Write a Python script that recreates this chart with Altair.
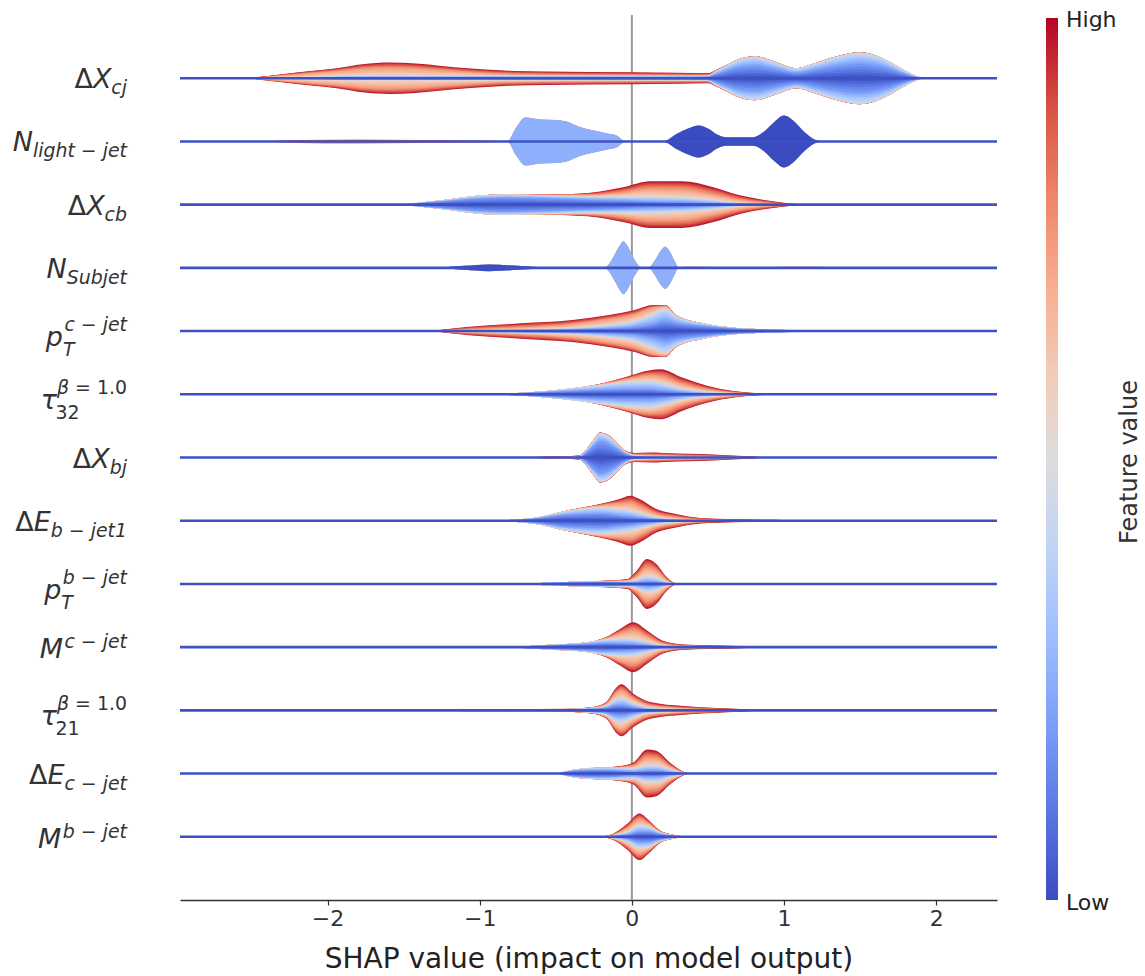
import altair as alt
import numpy as np
import pandas as pd

# ---------------------------------------------------------------------------
# Feature names, written as mathtext-like runs: (text, role, italic)
# role: "b" = base, "sub" = subscript, "sup" = superscript
# ---------------------------------------------------------------------------
feature_labels = [
    [("Δ", "b", 0), ("X", "b", 1), ("cj", "sub", 1)],
    [("N", "b", 1), ("light − jet", "sub", 1)],
    [("Δ", "b", 0), ("X", "b", 1), ("cb", "sub", 1)],
    [("N", "b", 1), ("Subjet", "sub", 1)],
    [("p", "b", 1), ("T", "sub", 1), ("c − jet", "sup", 1)],
    [("τ", "b", 1), ("32", "sub", 0), ("β", "sup", 1), (" ", "sup", 0), ("= 1.0", "sup", 0)],
    [("Δ", "b", 0), ("X", "b", 1), ("bj", "sub", 1)],
    [("Δ", "b", 0), ("E", "b", 1), ("b − jet1", "sub", 1)],
    [("p", "b", 1), ("T", "sub", 1), ("b − jet", "sup", 1)],
    [("M", "b", 1), ("c − jet", "sup", 1)],
    [("τ", "b", 1), ("21", "sub", 0), ("β", "sup", 1), (" ", "sup", 0), ("= 1.0", "sup", 0)],
    [("Δ", "b", 0), ("E", "b", 1), ("c − jet", "sub", 1)],
    [("M", "b", 1), ("b − jet", "sup", 1)],
]

colorbar_labels = ["Low", "High"]
colorbar_title = "Feature value"

# ---------------------------------------------------------------------------
# SHAP value grid and layered densities per feature.
# Each *_w holds one density list per feature-value bin, from the violin's
# centre outward (low feature value first).
# ---------------------------------------------------------------------------
dxcj_x = [-2.52, -2.3, -2.11, -1.94, -1.77, -1.59, -1.42, -1.25, -1.08, -0.84, -0.56, 0.0, 0.3,
          0.5, 0.55, 0.62, 0.7, 0.81, 0.95, 1.08, 1.2, 1.35, 1.5, 1.65, 1.78, 1.87, 1.93]
dxcj_w = [
    [0, 0.5, 0.8, 1, 1.2, 1.2, 1.2, 1.2, 1.2, 1.2, 1.2, 1.2, 1.2, 1.5, 4, 7.5, 11, 12.5, 9, 5.5, 8.5, 12.5, 14.5, 11.5, 5, 1.2, 0],
    [0, 0.3, 0.5, 0.8, 0.8, 0.8, 0.8, 0.8, 0.8, 0.8, 0.8, 0.8, 0.8, 0.8, 2.8, 4.8, 7.5, 9, 6.5, 4.1, 6.1, 9, 11, 8.2, 3.8, 0.8, 0],
    [0, 2, 3.8, 5.2, 7.5, 8.5, 7.7, 6, 4.2, 2.2, 1.5, 1, 0.8, 0.6, 0.4, 0.3, 0.2, 0.2, 0.2, 0.1, 0.1, 0.2, 0.2, 0.1, 0.1, 0, 0],
    [0, 1.2, 2.2, 3, 4.5, 5.2, 5, 4.3, 3.8, 3.5, 3.2, 3, 2.7, 2.1, 0.8, 0.4, 0.3, 0.3, 0.3, 0.3, 0.3, 0.3, 0.3, 0.2, 0.1, 0, 0],
]

nlight_x = [-2.4, -2.2, -1.8, -1.4, -1.0, -0.85, -0.82, -0.76, -0.70, -0.60, -0.50, -0.43, -0.35,
            -0.28, -0.22, -0.16, -0.10, -0.04, 0.2, 0.3, 0.37, 0.44, 0.5, 0.56, 0.62, 0.8, 0.87,
            0.94, 1.0, 1.06, 1.13, 1.2, 1.25]
nlight_w = [
    [0] * 18 + [0, 8, 13, 16, 13, 7, 4.3, 4.3, 10, 20, 26, 21, 10, 2, 0],
    [0] * 6 + [0, 14, 24, 22, 21.5, 20, 15, 12, 10, 8, 6, 0] + [0] * 15,
    [0, 1.5, 2, 1.5, 1, 0.5, 0] + [0] * 26,
]

dxcb_x = [-1.52, -1.25, -0.98, -0.84, -0.56, -0.29, -0.05, 0.12, 0.33, 0.53, 0.71, 0.88, 1.12]
dxcb_w = [
    [0, 3.3, 6.3, 7, 6.2, 5, 4, 3, 2.5, 1.5, 0.5, 0.2, 0],
    [0, 1, 3, 3, 3, 3, 4, 5, 4.5, 3, 1, 0.3, 0],
    [0, 0, 0, 0.2, 0.5, 1.8, 4.5, 8, 8.5, 6, 3.5, 1.5, 0],
    [0, 0, 0, 0.1, 0.3, 1.9, 5.2, 7.3, 7.8, 7.2, 4.3, 2.3, 0],
]

nsub_x = [-1.4, -1.32, -1.1, -0.94, -0.75, -0.56, -0.45, -0.18, -0.14, -0.11, -0.08, -0.056, -0.03,
          0.0, 0.03, 0.06, 0.08, 0.11, 0.15, 0.19, 0.22, 0.25, 0.28, 0.31, 0.35, 0.45, 0.58, 0.7,
          0.81, 1.0, 1.2, 1.33, 1.45]
nsub_w = [
    [0, 0, 2, 3.3, 2, 0.3, 0] + [0] * 26,
    [0] * 8 + [6, 14, 22, 26.5, 22, 13, 5, 0, 0, 0, 7, 17, 21, 16, 7, 0] + [0] * 9,
    [0] * 24 + [1, 1.2, 0.5, 0, 0.3, 1.2, 1.2, 0.3, 0],
]

ptc_x = [-1.32, -1.07, -0.73, -0.39, -0.15, 0.02, 0.14, 0.22, 0.29, 0.47, 0.67, 0.91, 1.32, 1.5]
ptc_w = [
    [0, 0.5, 1, 1.5, 2.5, 4, 7, 10, 8, 5, 2.5, 1.3, 0.5, 0],
    [0, 0.3, 0.5, 1.5, 3.5, 6, 10, 12, 7, 2.5, 0.8, 0.2, 0, 0],
    [0, 1, 2.2, 4, 6, 7, 6.5, 3, 0.7, 0.1, 0, 0, 0, 0],
    [0, 2.5, 4, 4, 4, 4, 2.5, 1, 0.3, 0.1, 0, 0, 0, 0],
]

tau32_x = [-0.91, -0.56, -0.22, -0.05, 0.12, 0.19, 0.33, 0.50, 0.67, 0.81, 1.0]
tau32_w = [
    [0, 2.3, 4.5, 5, 5, 4, 2, 0.8, 0.3, 0.1, 0],
    [0, 1, 4.5, 7, 8, 7, 3.5, 1.5, 0.5, 0.1, 0],
    [0, 0, 0.7, 3, 6, 7, 5, 2.5, 1, 0.4, 0],
    [0, 0, 0.3, 1.7, 5, 7, 6.2, 3.5, 1.5, 0.6, 0],
]

dxbj_x = [-0.70, -0.55, -0.40, -0.34, -0.30, -0.25, -0.21, -0.16, -0.10, -0.04, 0.02, 0.12, 0.30,
          0.45, 0.62, 0.77, 0.9]
dxbj_w = [
    [0, 0, 0.3, 1, 5, 12, 16, 14, 9, 3.5, 1, 0.5, 0.3, 0.2, 0.1, 0, 0],
    [0, 0, 0, 0.3, 2, 5, 8, 8, 5, 2, 1, 0.5, 0.3, 0.2, 0.1, 0, 0],
    [0, 0.5, 0.7, 0.5, 0.5, 0.6, 0.6, 0.6, 0.6, 0.6, 1, 1.5, 1.2, 1, 0.6, 0.3, 0],
    [0, 0.5, 0.5, 0.5, 0.5, 0.4, 0.4, 0.4, 0.4, 0.6, 1.5, 2.5, 2.2, 2, 1.4, 0.9, 0],
]

debj_x = [-0.95, -0.65, -0.43, -0.21, -0.08, -0.01, 0.05, 0.16, 0.29, 0.45, 0.67, 1.0, 1.32, 1.45]
debj_w = [
    [0, 2, 6, 7, 5, 4, 3, 1.5, 0.5, 0.2, 0, 0, 0, 0],
    [0, 0.7, 3.5, 6, 6.5, 6, 4.5, 2, 1, 0.3, 0.1, 0, 0, 0],
    [0, 0, 0.5, 2.5, 6, 8, 7, 3.5, 2, 0.8, 0.4, 0.2, 0.1, 0],
    [0, 0, 0, 1.2, 4.2, 7, 7.2, 4.7, 3.2, 1.4, 1.0, 0.6, 0.2, 0],
]

ptb_x = [-0.89, -0.6, -0.43, -0.17, -0.03, 0.03, 0.10, 0.16, 0.23, 0.28, 0.32]
ptb_w = [
    [0, 0.8, 1.5, 2, 1.5, 1.5, 2.5, 2, 0.5, 0.1, 0],
    [0, 0.2, 0.5, 0.8, 1, 2.5, 5, 4, 1.2, 0.2, 0],
    [0, 0, 0, 0.2, 1, 4, 9, 7.5, 2.5, 0.3, 0],
    [0, 0, 0, 0.3, 1.5, 5, 8.5, 6.5, 2.5, 0.4, 0],
]

mc_x = [-0.80, -0.54, -0.32, -0.17, -0.08, 0.01, 0.10, 0.20, 0.34, 0.66, 0.88, 1.0]
mc_w = [
    [0, 1.8, 3, 4, 3.5, 3, 2, 0.7, 0.2, 0, 0, 0],
    [0, 0.5, 1.3, 3.5, 5, 5, 3, 1, 0.3, 0.1, 0, 0],
    [0, 0, 0, 1.5, 5.5, 9, 6, 2.2, 0.8, 0.4, 0.1, 0],
    [0, 0, 0, 1, 4, 8, 5.7, 2.8, 1.4, 0.8, 0.2, 0],
]

tau21_x = [-1.6, -1.0, -0.43, -0.26, -0.17, -0.10, -0.07, 0.01, 0.12, 0.34, 0.56, 0.77, 0.9]
tau21_w = [
    [0, 0.6, 1, 1.5, 2.5, 5, 5, 3, 1, 0.3, 0.1, 0, 0],
    [0, 0.2, 0.3, 0.8, 2, 6, 7, 4, 1.5, 0.5, 0.2, 0, 0],
    [0, 0, 0.1, 0.5, 2, 7, 8, 5, 2.5, 1.3, 0.7, 0.3, 0],
    [0, 0, 0.1, 0.5, 1.5, 5, 6, 4.7, 3.3, 2.2, 1.3, 0.7, 0],
]

dec_x = [-0.49, -0.36, -0.21, -0.10, 0.01, 0.10, 0.16, 0.25, 0.34, 0.38]
dec_w = [
    [0, 3, 3.5, 3, 2, 3, 3, 1.5, 0.3, 0],
    [0, 1.3, 2.2, 2.5, 3, 5, 5, 2.5, 0.4, 0],
    [0, 0, 0, 0.8, 3, 8, 7.5, 3.5, 0.5, 0],
    [0, 0, 0.3, 0.7, 3, 8, 7.2, 3.5, 0.5, 0],
]

mb_x = [-0.21, -0.12, -0.03, 0.05, 0.11, 0.18, 0.27, 0.34, 0.42]
mb_w = [
    [0, 0.8, 2, 5, 5, 2.8, 1, 0.3, 0],
    [0, 0.8, 3, 6, 5, 2, 0.6, 0.2, 0],
    [0, 0.8, 4, 6.5, 3.5, 1, 0.2, 0, 0],
    [0, 0.9, 4, 5.8, 3.2, 0.9, 0.2, 0, 0],
]

# feature-value ranges of the bins (0 = low, 1 = high)
GRAD_BINS = [(0.0, 0.2), (0.2, 0.45), (0.55, 0.75), (0.75, 1.0)]
FLAT_BINS = [(0.0, 0.0), (0.25, 0.25), (0.85, 0.85)]

features = [
    (dxcj_x, dxcj_w, GRAD_BINS),
    (nlight_x, nlight_w, FLAT_BINS),
    (dxcb_x, dxcb_w, GRAD_BINS),
    (nsub_x, nsub_w, FLAT_BINS),
    (ptc_x, ptc_w, GRAD_BINS),
    (tau32_x, tau32_w, GRAD_BINS),
    (dxbj_x, dxbj_w, GRAD_BINS),
    (debj_x, debj_w, GRAD_BINS),
    (ptb_x, ptb_w, GRAD_BINS),
    (mc_x, mc_w, GRAD_BINS),
    (tau21_x, tau21_w, GRAD_BINS),
    (dec_x, dec_w, GRAD_BINS),
    (mb_x, mb_w, GRAD_BINS),
]

COOLWARM = ["#3b4cc0", "#5977e3", "#7b9ff9", "#9ebeff", "#c0d4f5", "#dddcdc",
            "#f2cbb7", "#f7ac8e", "#ee8468", "#d65244", "#b40426"]

# ---------------------------------------------------------------------------
# Geometry
# ---------------------------------------------------------------------------
W, H = 817, 885
N_ROWS = len(features)
Y_MIN, Y_MAX = -1.0, N_ROWS + 0.0
ROW_PX = H / (Y_MAX - Y_MIN)
DENSITY_PER_ROW = 63.2      # density that fills one full row spacing
SUB_BANDS = 5               # colour steps inside a graded bin

# stacked, mirrored bands (inner band index 0)
records = []
max_band = 0
for r, (xs, ws, bins) in enumerate(features):
    xs = np.asarray(xs, float)
    bands = []
    for (c_lo, c_hi), w in zip(bins, ws):
        w = np.asarray(w, float)
        n = 1 if c_lo == c_hi else SUB_BANDS
        for s in range(n):
            bands.append((c_lo + (c_hi - c_lo) * (s + 0.5) / n, w / n))
    cum = np.zeros(len(xs))
    for b, (c, w) in enumerate(bands):
        cum = cum + w
        half = cum / DENSITY_PER_ROW
        for xv, h in zip(xs, half):
            records.append({"row": r, "band": b, "x": float(xv),
                            "lo": r - float(h), "hi": r + float(h), "c": c})
    max_band = max(max_band, len(bands))
violins = pd.DataFrame(records)

# ---------------------------------------------------------------------------
# Feature label layout (DejaVu Sans advance widths, units per em = 2048)
# ---------------------------------------------------------------------------
ADV = {"Δ": 1401, "X": 1401, "N": 1532, "E": 1294, "M": 1767, "S": 1300, "T": 1251,
       "p": 1300, "b": 1300, "c": 1126, "e": 1260, "g": 1300, "h": 1298, "i": 569,
       "j": 569, "l": 569, "t": 803, "u": 1298, "τ": 1118, "β": 1300, " ": 651,
       "−": 1716, "=": 1716, ".": 651}
for d in "0123456789":
    ADV[d] = 1303

BASE_FS = 27.0
SCRIPT_FS = BASE_FS * 0.7
LABEL_RIGHT = -53.0
# baseline offsets in px (base, sub, sup) by script layout
OFFSETS = {"sub": (10, 16, None), "sup": (11, None, 1), "both": (15, 25, 0)}


def width(text, size):
    return sum(ADV.get(ch, 1250) for ch in text) / 2048.0 * size


label_rows = []
for r, runs in enumerate(feature_labels):
    roles = {role for _, role, _ in runs}
    kind = "both" if {"sub", "sup"} <= roles else ("sub" if "sub" in roles else "sup")
    off_b, off_sub, off_sup = OFFSETS[kind]
    placed = []
    cur = 0.0
    for text, role, ital in runs:
        if role == "b":
            placed.append((text, cur, BASE_FS, off_b, ital))
            cur += width(text, BASE_FS)
    x_sub = cur
    x_sup = cur + 1.5
    for text, role, ital in runs:
        if role == "sub":
            placed.append((text, x_sub, SCRIPT_FS, off_sub, ital))
            x_sub += width(text, SCRIPT_FS)
        elif role == "sup":
            placed.append((text, x_sup, SCRIPT_FS, off_sup, ital))
            x_sup += width(text, SCRIPT_FS)
    end = max(cur, x_sub, x_sup if "sup" in roles else cur)
    shift = LABEL_RIGHT - end
    for text, x0, fs, off, ital in placed:
        if text.strip():
            label_rows.append({"t": text, "lx": x0 + shift, "ty": r + off / ROW_PX,
                               "fs": fs, "italic": ital})
labels = pd.DataFrame(label_rows)

# ---------------------------------------------------------------------------
# Scales / encodings
# ---------------------------------------------------------------------------
x_scale = alt.Scale(domain=[-2.97, 2.40], nice=False, zero=False)
y_scale = alt.Scale(domain=[Y_MIN, Y_MAX], nice=False, zero=False, reverse=True)
color_scale = alt.Scale(domain=[i / 10 for i in range(11)], range=COOLWARM, interpolate="rgb")

x_axis = alt.Axis(values=[-2, -1, 0, 1, 2], format="d", grid=False,
                  title="SHAP value (impact on model output)",
                  domainColor="#333333", domainWidth=1.5, tickColor="#333333",
                  tickSize=5, tickWidth=1.2, labelFont="DejaVu Sans", labelFontSize=22,
                  labelColor="#333333", labelPadding=3, titleFont="DejaVu Sans",
                  titleFontSize=28, titleFontWeight="normal", titleColor="#222222",
                  titlePadding=16)
x_enc = alt.X("x:Q", scale=x_scale, axis=x_axis)

# colour bar: gradient only, its end labels are drawn as text below
legend = alt.Legend(title=None, orient="none", legendX=866, legendY=3, direction="vertical",
                    gradientLength=882, gradientThickness=12, gradientStrokeWidth=0,
                    values=[0, 1], labelExpr="''", labelFontSize=1)

layers = []

# zero reference line (behind the violins)
layers.append(
    alt.Chart(pd.DataFrame({"x": [0.0]}))
    .mark_rule(color="#999999", strokeWidth=2)
    .encode(x=x_enc, y=alt.value(0), y2=alt.value(H))
)

# violin bands, outermost first
for b in range(max_band - 1, -1, -1):
    layers.append(
        alt.Chart(violins)
        .transform_filter(f"datum.band == {b}")
        .mark_area(interpolate="monotone", orient="vertical")
        .encode(
            x=x_enc,
            y=alt.Y("lo:Q", scale=y_scale, axis=None),
            y2="hi:Q",
            color=alt.Color("c:Q", scale=color_scale, legend=legend),
            detail="row:N",
        )
    )

# horizontal baseline of each feature row
layers.append(
    alt.Chart(pd.DataFrame({"row": list(range(N_ROWS))}))
    .mark_rule(color="#3d50c4", strokeWidth=2.6)
    .encode(y=alt.Y("row:Q", scale=y_scale, axis=None), x=alt.value(0), x2=alt.value(W))
)

# feature labels
for ital in (1, 0):
    layers.append(
        alt.Chart(labels[labels["italic"] == ital])
        .mark_text(align="left", baseline="alphabetic", font="DejaVu Sans",
                   fontStyle="italic" if ital else "normal", color="#333333")
        .encode(
            x=alt.X("lx:Q", scale=None),
            y=alt.Y("ty:Q", scale=y_scale, axis=None),
            text="t:N",
            size=alt.Size("fs:Q", scale=None),
        )
    )

# colour bar end labels (Low at the bottom, High at the top)
cb_text = pd.DataFrame({"t": colorbar_labels, "py": [888, 5]})
layers.append(
    alt.Chart(cb_text)
    .mark_text(align="left", baseline="middle", fontSize=22, font="DejaVu Sans",
               color="#222222")
    .encode(x=alt.value(886), y=alt.Y("py:Q", scale=None), text="t:N")
)

# colour bar title
layers.append(
    alt.Chart(pd.DataFrame({"t": [colorbar_title]}))
    .mark_text(angle=270, fontSize=24, font="DejaVu Sans", color="#333333",
               align="center", baseline="middle")
    .encode(x=alt.value(950), y=alt.value(447), text="t:N")
)

chart = (
    alt.layer(*layers)
    .properties(width=W, height=H, autosize=alt.AutoSizeParams(type="none"),
                padding={"left": 180, "top": 15, "right": 148, "bottom": 76})
    .configure(font="DejaVu Sans")
    .configure_view(stroke=None)
)

chart.save("out.html", embed_options={"renderer": "svg", "actions": False})
